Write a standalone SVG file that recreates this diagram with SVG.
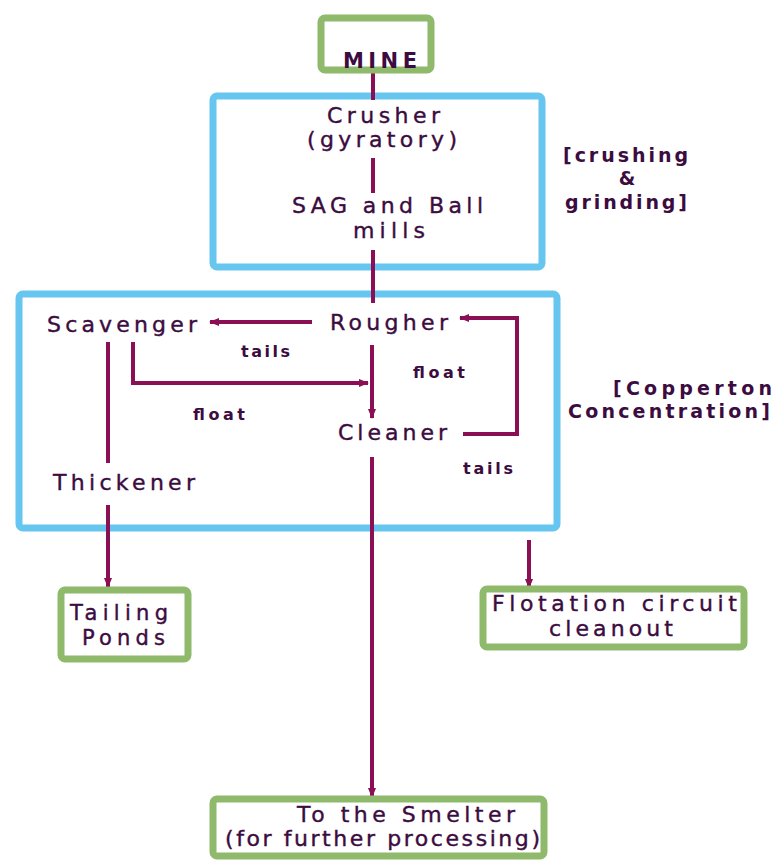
<svg xmlns="http://www.w3.org/2000/svg" width="776" height="867" viewBox="0 0 776 867">
<defs>
<style>
.bg{fill:#ffffff}
.green{fill:#ffffff;stroke:#8fba6c;stroke-width:7}
.blue{fill:none;stroke:#66c6f0;stroke-width:7}
.t{font-family:"DejaVu Sans",Verdana,sans-serif;font-size:22px;fill:#3c0c40;stroke:#3c0c40;stroke-width:0.4}
.tb{font-family:"DejaVu Sans",Verdana,sans-serif;font-size:19px;font-weight:bold;fill:#3c0c40}
.lb{font-family:"DejaVu Sans",Verdana,sans-serif;font-size:16px;font-weight:bold;fill:#3c0c40}
.c{fill:none;stroke:#8a0f55;stroke-width:4}
</style>
<marker id="ah" markerWidth="10" markerHeight="8" refX="9" refY="4" orient="auto" markerUnits="userSpaceOnUse">
<path d="M0,0 L10,4 L0,8 Z" fill="#8a0f55"/>
</marker>
</defs>
<rect class="bg" x="0" y="0" width="776" height="867"/>

<g id="crushing-group">
<rect class="blue" x="213" y="96" width="329" height="171" rx="4"/>
</g>
<g id="concentration-group">
<rect class="blue" x="19" y="294" width="538" height="234" rx="4"/>
</g>

<g id="connectors">
<line class="c" x1="373" y1="72" x2="373" y2="100"/>
<line class="c" x1="373" y1="158" x2="373" y2="193"/>
<line class="c" x1="373" y1="250" x2="373" y2="303"/>
<line class="c" x1="312" y1="322" x2="210" y2="322" marker-end="url(#ah)"/>
<line class="c" x1="372" y1="345" x2="372" y2="418" marker-end="url(#ah)"/>
<line class="c" x1="108" y1="342" x2="108" y2="463"/>
<line class="c" x1="108" y1="505" x2="108" y2="587" marker-end="url(#ah)"/>
<polyline class="c" points="133,342 133,383 368,383" marker-end="url(#ah)"/>
<polyline class="c" points="463,434 517,434 517,318 460,318" marker-end="url(#ah)"/>
<line class="c" x1="372" y1="457" x2="372" y2="797" marker-end="url(#ah)"/>
<line class="c" x1="529" y1="540" x2="529" y2="588" marker-end="url(#ah)"/>
<text class="lb" x="241" y="357" textLength="49" lengthAdjust="spacing">tails</text>
<text class="lb" x="413" y="378" textLength="52" lengthAdjust="spacing">float</text>
<text class="lb" x="193" y="420" textLength="52" lengthAdjust="spacing">float</text>
<text class="lb" x="463" y="474" textLength="50" lengthAdjust="spacing">tails</text>
</g>

<g id="mine">
<rect class="green" x="321" y="18" width="110" height="52" rx="4"/>
<text class="tb" x="343" y="68" textLength="74" lengthAdjust="spacing" style="font-size:21px">MINE</text>
</g>
<g id="crusher">
<text class="t" x="327" y="123" textLength="113" lengthAdjust="spacing">Crusher</text>
<text class="t" x="307" y="147" textLength="150" lengthAdjust="spacing">(gyratory)</text>
</g>
<g id="mills">
<text class="t" x="292" y="213" textLength="191" lengthAdjust="spacing">SAG and Ball</text>
<text class="t" x="353" y="238" textLength="72" lengthAdjust="spacing">mills</text>
</g>
<g id="crushing-label">
<text class="tb" x="563" y="162" textLength="125" lengthAdjust="spacing">[crushing</text>
<text class="tb" x="627" y="185" text-anchor="middle">&amp;</text>
<text class="tb" x="565" y="209" textLength="122" lengthAdjust="spacing">grinding]</text>
</g>
<g id="scavenger">
<text class="t" x="47" y="332" textLength="150" lengthAdjust="spacing">Scavenger</text>
</g>
<g id="rougher">
<text class="t" x="330" y="330" textLength="118" lengthAdjust="spacing">Rougher</text>
</g>
<g id="cleaner">
<text class="t" x="338" y="440" textLength="109" lengthAdjust="spacing">Cleaner</text>
</g>
<g id="thickener">
<text class="t" x="53" y="490" textLength="142" lengthAdjust="spacing">Thickener</text>
</g>
<g id="concentration-label">
<text class="tb" x="613" y="395" textLength="159" lengthAdjust="spacing">[Copperton</text>
<text class="tb" x="568" y="418" textLength="202" lengthAdjust="spacing">Concentration]</text>
</g>
<g id="tailing-ponds">
<rect class="green" x="61" y="590" width="127" height="69" rx="4"/>
<text class="t" x="70" y="620" textLength="98" lengthAdjust="spacing" style="font-size:21px">Tailing</text>
<text class="t" x="82" y="645" textLength="83" lengthAdjust="spacing" style="font-size:21px">Ponds</text>
</g>
<g id="flotation-cleanout">
<rect class="green" x="483" y="589" width="261" height="58" rx="4"/>
<text class="t" x="492" y="611" textLength="245" lengthAdjust="spacing">Flotation circuit</text>
<text class="t" x="549" y="636" textLength="124" lengthAdjust="spacing">cleanout</text>
</g>
<g id="smelter">
<rect class="green" x="213" y="799" width="331" height="57" rx="4"/>
<text class="t" x="297" y="822" textLength="218" lengthAdjust="spacing">To the Smelter</text>
<text class="t" x="225" y="846" textLength="315" lengthAdjust="spacing">(for further processing)</text>
</g>
</svg>
